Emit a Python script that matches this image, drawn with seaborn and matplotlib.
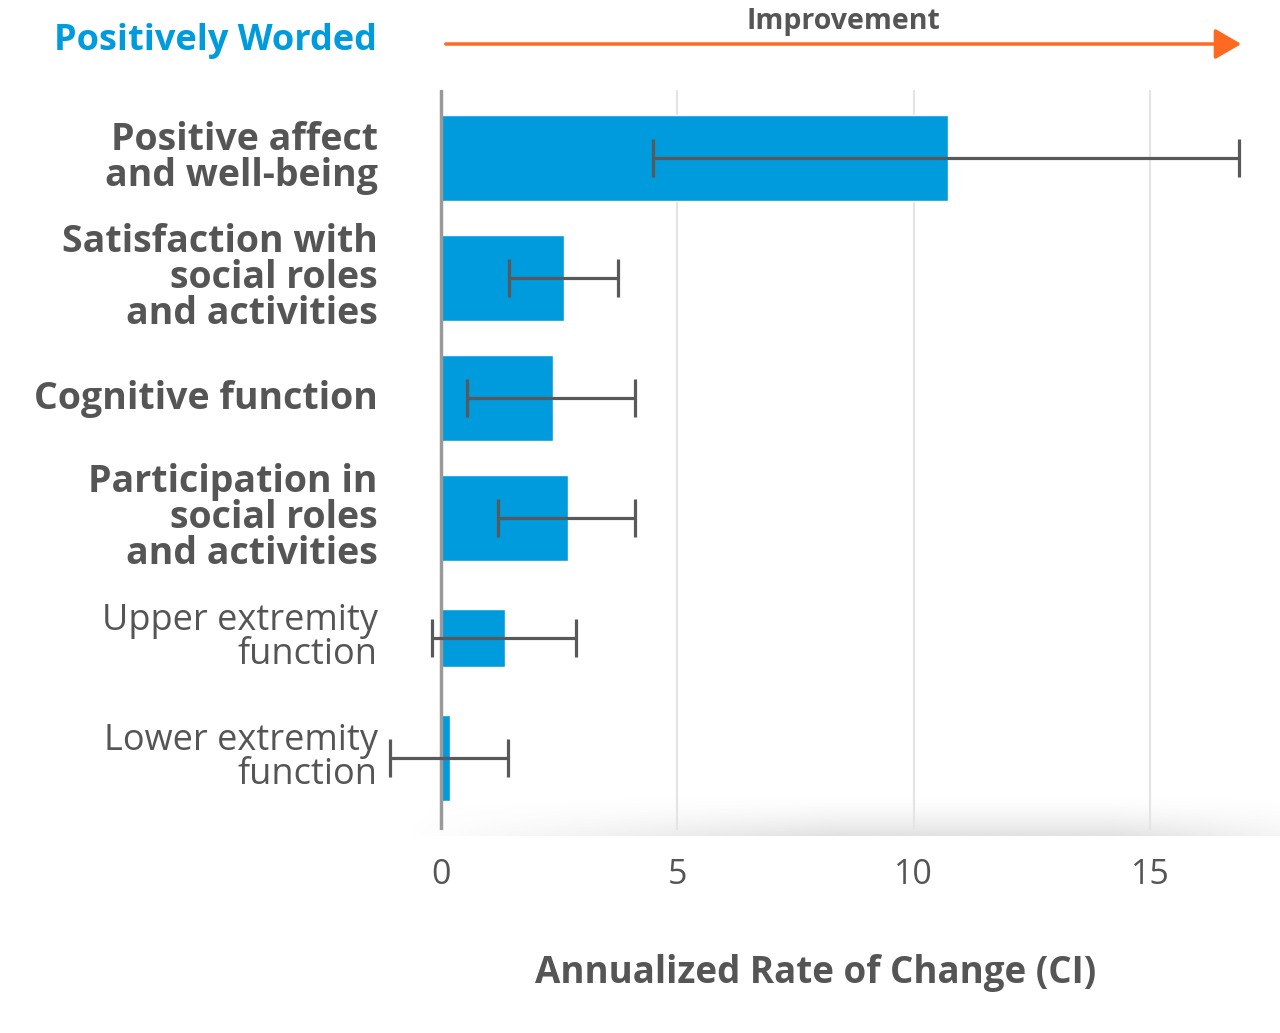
import matplotlib
matplotlib.use("Agg")
import matplotlib.pyplot as plt
import matplotlib.transforms as mtrans
import numpy as np
import pandas as pd
import seaborn as sns

# data
categories = [
    "Positive affect\nand well-being",
    "Satisfaction with\nsocial roles\nand activities",
    "Cognitive function",
    "Participation in\nsocial roles\nand activities",
    "Upper extremity\nfunction",
    "Lower extremity\nfunction",
]
rate = [10.72, 2.60, 2.37, 2.69, 1.35, 0.19]
ci_low = [4.48, 1.44, 0.55, 1.21, -0.19, -1.08]
ci_high = [16.89, 3.74, 4.10, 4.10, 2.85, 1.42]
bold_label = [True, True, True, True, False, False]
xticks = [0, 5, 10, 15]

BLUE = "#009bdc"
GREY = "#555555"
ORANGE = "#ff6a22"

sns.set_theme(style="white")
plt.rcParams["font.family"] = ["Open Sans", "DejaVu Sans"]

W, H = 1280, 1033
fig = plt.figure(figsize=(W / 100, H / 100), dpi=100)

def fx(px):
    return px / W

def fy(py):
    return 1 - py / H

# soft shadow under the plot
sh = fig.add_axes([fx(400), fy(836), fx(880), (836 - 792) / H], zorder=0)
gx = np.linspace(0, 1, 300)
gy = np.linspace(0, 1, 60)
X, Y = np.meshgrid(gx, gy)
horiz = np.clip(np.minimum(X / 0.5, (1 - X) / 0.3 + 0.35), 0, 1)
vert = (1 - Y) ** 1.8
rgba = np.zeros((60, 300, 4))
rgba[..., :3] = 0.4
rgba[..., 3] = 0.2 * horiz * vert
sh.imshow(rgba, aspect="auto", extent=[0, 1, 0, 1], origin="lower")
sh.axis("off")

# main axes
px_per_unit = (1150 - 441) / 15
x_left = (380 - 441) / px_per_unit
x_right = (1280 - 441) / px_per_unit
ax = fig.add_axes([fx(380), fy(830), fx(900), (830 - 90) / H], zorder=1)
ax.patch.set_alpha(0)

df = pd.DataFrame({"category": categories, "rate": rate})
sns.barplot(data=df, x="rate", y="category", color=BLUE, saturation=1,
            width=0.72, ax=ax, zorder=3)

# upper extremity bar is drawn thinner in the original
p = ax.patches[4]
c = p.get_y() + p.get_height() / 2
p.set_height(0.48)
p.set_y(c - 0.24)

ypos = np.arange(len(categories))
rate_arr = np.array(rate)
err = [rate_arr - np.array(ci_low), np.array(ci_high) - rate_arr]
ax.errorbar(rate_arr, ypos, xerr=err, fmt="none", ecolor="#595959",
            elinewidth=2.3, capsize=13.5, capthick=2.3, zorder=5)

for t in xticks[1:]:
    ax.axvline(t, color="#e4e4e4", lw=1.5, zorder=1)
ax.axvline(0, color="#9a9a9a", lw=2.5, zorder=4)

ax.set_xlim(x_left, x_right)
ax.set_ylim(5.6, -0.567)
ax.set_xticks(xticks)
ax.set_xticklabels([str(t) for t in xticks], fontsize=24.5, color=GREY)
ax.tick_params(axis="x", length=0, pad=20)
ax.tick_params(axis="y", length=0, pad=1.5)
shift = mtrans.ScaledTranslation(0, 3.5 / 100, fig.dpi_scale_trans)
for lab, b in zip(ax.get_yticklabels(), bold_label):
    lab.set_color(GREY)
    if b:
        lab.set_fontsize(27)
        lab.set_fontweight("bold")
    else:
        lab.set_fontsize(26)
        lab.set_fontweight("normal")
    lab.set_linespacing(0.93)
    lab.set_transform(lab.get_transform() + shift)
ax.set_xlabel("")
ax.set_ylabel("")
sns.despine(ax=ax, left=True, bottom=True, top=True, right=True)

# header and axis title
fig.text(fx(377), fy(41), "Positively Worded", ha="right", va="center",
         fontsize=26, fontweight="bold", color=BLUE)
fig.text(fx(843), fy(21), "Improvement", ha="center", va="center",
         fontsize=20.5, fontweight="bold", color=GREY)
fig.add_artist(matplotlib.patches.FancyArrowPatch(
    (fx(443), fy(44)), (fx(1244), fy(44)), transform=fig.transFigure,
    arrowstyle="-|>,head_length=1.15,head_width=0.67", mutation_scale=14,
    color=ORANGE, lw=2.5))
fig.text(fx(816), fy(973), "Annualized Rate of Change (CI)", ha="center",
         va="center", fontsize=26.5, fontweight="bold", color=GREY)

fig.savefig("out.png", dpi=100, facecolor="white")
